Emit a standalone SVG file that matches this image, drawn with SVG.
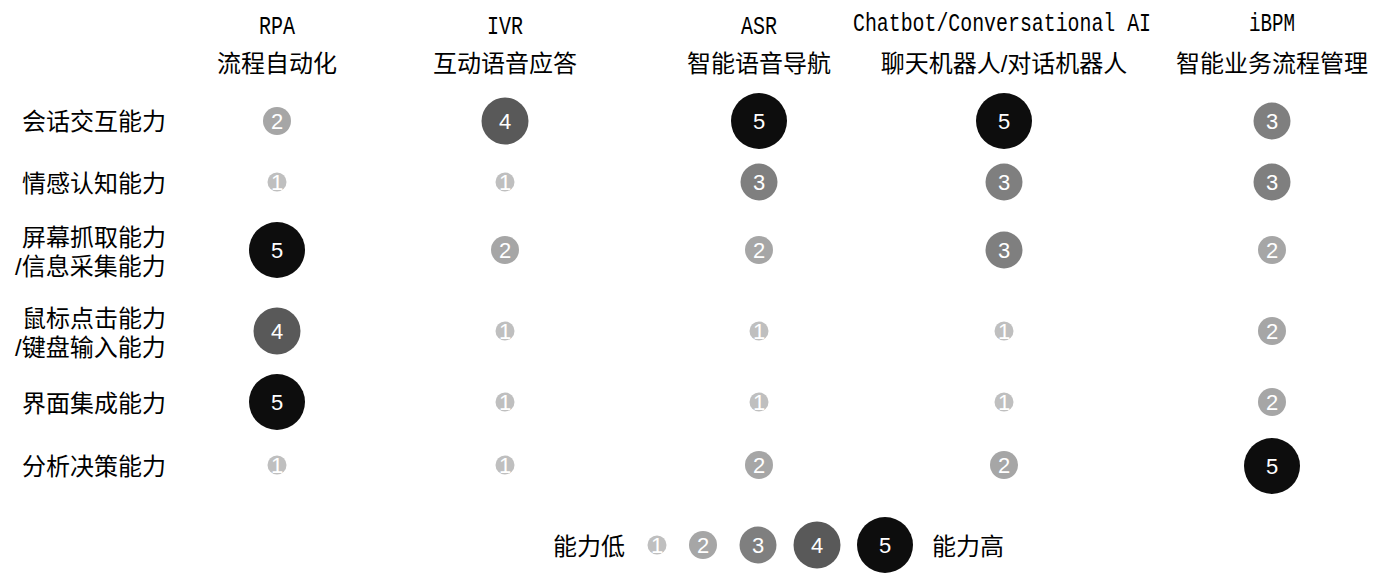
<svg xmlns="http://www.w3.org/2000/svg" width="1383" height="574" viewBox="0 0 1383 574">
<style>
.cj{font-family:"Liberation Sans","Noto Sans CJK SC",sans-serif;font-size:24px;fill:#000;dominant-baseline:central}
.en{font-family:"Liberation Mono","DejaVu Sans Mono",monospace;font-size:25px;fill:#000;dominant-baseline:central;text-anchor:middle}
.mid{text-anchor:middle}
.n{font-family:"Liberation Sans",Arial,sans-serif;font-size:22px;fill:#fff;text-anchor:middle;dominant-baseline:central}
.l1{fill:#bfbfbf}.l2{fill:#a6a6a6}.l3{fill:#7f7f7f}.l4{fill:#595959}.l5{fill:#0d0d0d}
</style>
<rect width="1383" height="574" fill="#fff"/>
<g id="headers">
<text class="en" x="277" y="27" textLength="36" lengthAdjust="spacingAndGlyphs">RPA</text>
<text class="cj mid" x="277" y="63">流程自动化</text>
<text class="en" x="505" y="27" textLength="36" lengthAdjust="spacingAndGlyphs">IVR</text>
<text class="cj mid" x="505" y="63">互动语音应答</text>
<text class="en" x="759" y="27" textLength="36" lengthAdjust="spacingAndGlyphs">ASR</text>
<text class="cj mid" x="759" y="63">智能语音导航</text>
<text class="en" x="1002" y="24" textLength="298" lengthAdjust="spacingAndGlyphs">Chatbot/Conversational AI</text>
<text class="cj mid" x="1004" y="63">聊天机器人/对话机器人</text>
<text class="en" x="1272" y="24" textLength="46" lengthAdjust="spacingAndGlyphs">iBPM</text>
<text class="cj mid" x="1272" y="63">智能业务流程管理</text>
</g>
<g id="row-labels">
<text class="cj" x="22" y="121">会话交互能力</text>
<text class="cj" x="22" y="183">情感认知能力</text>
<text class="cj" x="22" y="237">屏幕抓取能力</text>
<text class="cj" x="15" y="266">/信息采集能力</text>
<text class="cj" x="22" y="318">鼠标点击能力</text>
<text class="cj" x="15" y="347">/键盘输入能力</text>
<text class="cj" x="22" y="403">界面集成能力</text>
<text class="cj" x="22" y="466">分析决策能力</text>
</g>
<g id="bubbles">
<g id="r1">
<circle class="l2" cx="277" cy="121" r="14"/><text class="n" x="277" y="121">2</text>
<circle class="l4" cx="505" cy="121" r="23.5"/><text class="n" x="505" y="121">4</text>
<circle class="l5" cx="759" cy="121" r="28"/><text class="n" x="759" y="121">5</text>
<circle class="l5" cx="1004" cy="121" r="28"/><text class="n" x="1004" y="121">5</text>
<circle class="l3" cx="1272" cy="121" r="18.5"/><text class="n" x="1272" y="121">3</text>
</g>
<g id="r2">
<circle class="l1" cx="277" cy="182" r="9.5"/><text class="n" x="277" y="182">1</text>
<circle class="l1" cx="505" cy="182" r="9.5"/><text class="n" x="505" y="182">1</text>
<circle class="l3" cx="759" cy="182" r="18.5"/><text class="n" x="759" y="182">3</text>
<circle class="l3" cx="1004" cy="182" r="18.5"/><text class="n" x="1004" y="182">3</text>
<circle class="l3" cx="1272" cy="182" r="18.5"/><text class="n" x="1272" y="182">3</text>
</g>
<g id="r3">
<circle class="l5" cx="277" cy="250" r="28"/><text class="n" x="277" y="250">5</text>
<circle class="l2" cx="505" cy="250" r="14"/><text class="n" x="505" y="250">2</text>
<circle class="l2" cx="759" cy="250" r="14"/><text class="n" x="759" y="250">2</text>
<circle class="l3" cx="1004" cy="250" r="18.5"/><text class="n" x="1004" y="250">3</text>
<circle class="l2" cx="1272" cy="250" r="14"/><text class="n" x="1272" y="250">2</text>
</g>
<g id="r4">
<circle class="l4" cx="277" cy="331" r="23.5"/><text class="n" x="277" y="331">4</text>
<circle class="l1" cx="505" cy="331" r="9.5"/><text class="n" x="505" y="331">1</text>
<circle class="l1" cx="759" cy="331" r="9.5"/><text class="n" x="759" y="331">1</text>
<circle class="l1" cx="1004" cy="331" r="9.5"/><text class="n" x="1004" y="331">1</text>
<circle class="l2" cx="1272" cy="331" r="14"/><text class="n" x="1272" y="331">2</text>
</g>
<g id="r5">
<circle class="l5" cx="277" cy="402" r="28"/><text class="n" x="277" y="402">5</text>
<circle class="l1" cx="505" cy="402" r="9.5"/><text class="n" x="505" y="402">1</text>
<circle class="l1" cx="759" cy="402" r="9.5"/><text class="n" x="759" y="402">1</text>
<circle class="l1" cx="1004" cy="402" r="9.5"/><text class="n" x="1004" y="402">1</text>
<circle class="l2" cx="1272" cy="402" r="14"/><text class="n" x="1272" y="402">2</text>
</g>
<g id="r6">
<circle class="l1" cx="277" cy="465" r="9.5"/><text class="n" x="277" y="465">1</text>
<circle class="l1" cx="505" cy="465" r="9.5"/><text class="n" x="505" y="465">1</text>
<circle class="l2" cx="759" cy="465" r="14"/><text class="n" x="759" y="465">2</text>
<circle class="l2" cx="1004" cy="465" r="14"/><text class="n" x="1004" y="465">2</text>
<circle class="l5" cx="1272" cy="466" r="28"/><text class="n" x="1272" y="466">5</text>
</g>
</g>
<g id="legend">
<text class="cj" x="553" y="546">能力低</text>
<circle class="l1" cx="657" cy="545" r="9.5"/><text class="n" x="657" y="545">1</text>
<circle class="l2" cx="703" cy="545" r="14"/><text class="n" x="703" y="545">2</text>
<circle class="l3" cx="758" cy="545" r="18.5"/><text class="n" x="758" y="545">3</text>
<circle class="l4" cx="817" cy="545" r="23.5"/><text class="n" x="817" y="545">4</text>
<circle class="l5" cx="885" cy="545" r="28"/><text class="n" x="885" y="545">5</text>
<text class="cj" x="932" y="546">能力高</text>
</g>
<g id="connectors"/>
</svg>
